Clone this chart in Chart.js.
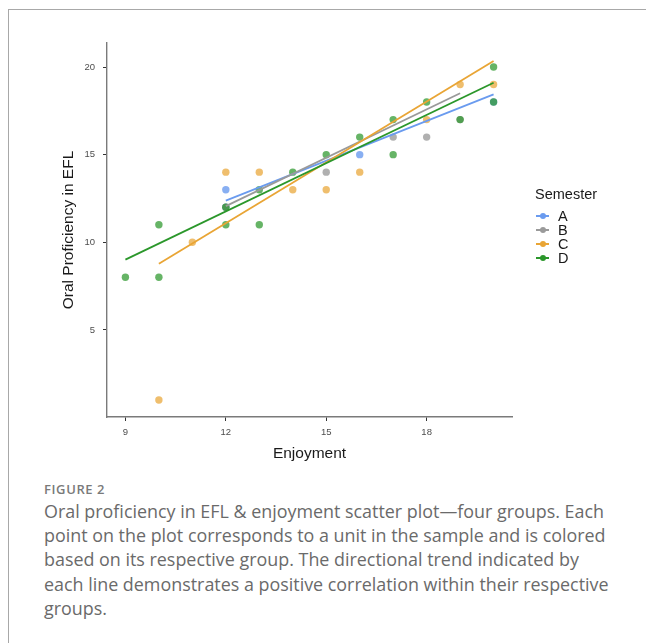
<!DOCTYPE html>
<html>
<head>
<meta charset="utf-8">
<script src="https://cdn.jsdelivr.net/npm/chart.js@4.4.1/dist/chart.umd.min.js"></script>
<style>
  html, body { margin: 0; padding: 0; background: #ffffff; width: 646px; height: 643px; overflow: hidden; }
  #frame { position: absolute; left: 8px; top: 9px; width: 700px; height: 700px;
           border-left: 1px solid #a8a8a8; border-top: 1px solid #a8a8a8; }
  #wrap { position: absolute; left: 0; top: 0; width: 646px; height: 470px; }
  #legend { position: absolute; left: 535px; top: 186px; font-family: "Liberation Sans", Arial, sans-serif; color: #1a1a1a; }
  #legend .title { font-size: 14.5px; line-height: 17px; margin-bottom: 6px; }
  #legend .row { position: relative; height: 14px; font-size: 14.5px; line-height: 14px; }
  #legend .key { position: absolute; left: 1px; top: 6px; width: 13px; height: 2px; }
  #legend .dot { position: absolute; left: 4px; top: -2px; width: 6px; height: 6px; border-radius: 50%; }
  #legend .lab { position: absolute; left: 23px; top: 0; }
  #fig { position: absolute; left: 44px; top: 480px; font-family: "Open Sans", sans-serif; font-weight: 600;
         font-size: 13px; letter-spacing: 0.6px; color: #7a7a7a; }
  #cap { position: absolute; left: 44px; top: 499px; width: 600px; white-space: nowrap; font-family: "Open Sans", sans-serif;
         font-weight: 400; font-size: 17.9px; line-height: 24.2px; color: #6a6a6a; }
</style>
</head>
<body>
<div id="frame"></div>
<div id="wrap"><canvas id="c"></canvas></div>
<div id="legend"></div>
<div id="fig">FIGURE 2</div>
<div id="cap">Oral proficiency in EFL &amp; enjoyment scatter plot—four groups. Each<br>point on the plot corresponds to a unit in the sample and is colored<br>based on its respective group. The directional trend indicated by<br>each line demonstrates a positive correlation within their respective<br>groups.</div>
<script>
// ---- Data ----
const semesters = ['A', 'B', 'C', 'D'];

const enjoymentA = [12, 12, 16, 20];
const oralA      = [13, 12, 15, 18];

const enjoymentB = [12, 15, 17, 18, 19];
const oralB      = [12, 14, 16, 16, 17];

const enjoymentC = [10, 11, 12, 13, 14, 15, 16, 18, 19, 20];
const oralC      = [1, 10, 14, 14, 13, 13, 14, 17, 19, 19];

const enjoymentD = [9, 10, 10, 12, 12, 13, 13, 14, 15, 16, 17, 17, 18, 19, 20, 20];
const oralD      = [8, 8, 11, 11, 12, 11, 13, 14, 15, 16, 15, 17, 18, 17, 18, 20];

// fitted trend lines: endpoints (x range, fitted y)
const trendXA = [12, 20]; const trendYA = [12.38, 18.44];
const trendXB = [12, 19]; const trendYB = [12.06, 18.50];
const trendXC = [10, 20]; const trendYC = [8.78, 20.34];
const trendXD = [9, 20];  const trendYD = [9.01, 19.10];

const xTicks = [9, 12, 15, 18];
const yTicks = [5, 10, 15, 20];
const xRange = [8.45, 20.55];
const yRange = [0.03, 21.37];

// ---- Styles ----
const lineColors  = ['#6a9bef', '#9a9a9a', '#e9a535', '#2b972b'];
const pointColors = ['rgba(106,155,239,0.80)', 'rgba(150,150,150,0.75)', 'rgba(233,165,53,0.72)', 'rgba(43,151,43,0.72)'];

const zip = (xs, ys) => xs.map((x, i) => ({ x: x, y: ys[i] }));
const pts = [zip(enjoymentA, oralA), zip(enjoymentB, oralB), zip(enjoymentC, oralC), zip(enjoymentD, oralD)];
const trends = [zip(trendXA, trendYA), zip(trendXB, trendYB), zip(trendXC, trendYC), zip(trendXD, trendYD)];

const datasets = [];
semesters.forEach((s, i) => {
  datasets.push({
    label: s, data: pts[i], type: 'scatter',
    backgroundColor: pointColors[i], borderWidth: 0,
    pointRadius: 3.7, pointHoverRadius: 3.7,
    order: 10 - i
  });
});
semesters.forEach((s, i) => {
  datasets.push({
    label: s + ' trend', data: trends[i], type: 'scatter', showLine: true,
    borderColor: lineColors[i], backgroundColor: lineColors[i], borderWidth: 1.8,
    pointRadius: 0, fill: false, tension: 0,
    order: 4 - i
  });
});

const FONT = '"Liberation Sans", Arial, sans-serif';

new Chart(document.getElementById('c'), {
  type: 'scatter',
  data: { datasets: datasets },
  options: {
    responsive: true, maintainAspectRatio: false, animation: false, devicePixelRatio: 1,
    layout: { padding: { left: 59, top: 43, right: 134, bottom: 7 } },
    plugins: { legend: { display: false }, tooltip: { enabled: false }, title: { display: false } },
    scales: {
      x: {
        type: 'linear', min: xRange[0], max: xRange[1],
        afterBuildTicks: (s) => { s.ticks = xTicks.map(v => ({ value: v })); },
        afterFit: (s) => { s.height = 46; },
        grid: { display: true, drawOnChartArea: false, drawTicks: true, tickLength: 4, color: '#333333', lineWidth: 1 },
        border: { display: true, color: '#7a7a7a', width: 1.4 },
        ticks: { color: '#4d4d4d', font: { family: FONT, size: 9.5 }, padding: 6, maxRotation: 0, autoSkip: false },
        title: { display: true, text: 'Enjoyment', color: '#1a1a1a', font: { family: FONT, size: 15.5 }, padding: 0 }
      },
      y: {
        type: 'linear', min: yRange[0], max: yRange[1],
        afterBuildTicks: (s) => { s.ticks = yTicks.map(v => ({ value: v })); },
        afterFit: (s) => { s.width = 48; },
        grid: { display: true, drawOnChartArea: false, drawTicks: true, tickLength: 4, color: '#333333', lineWidth: 1 },
        border: { display: true, color: '#7a7a7a', width: 1.4 },
        ticks: { color: '#4d4d4d', font: { family: FONT, size: 9.5 }, padding: 8, autoSkip: false },
        title: { display: true, text: 'Oral Proficiency in EFL', color: '#1a1a1a', font: { family: FONT, size: 15.5 }, padding: 0 }
      }
    }
  }
});

// HTML legend
const leg = document.getElementById('legend');
let html = '<div class="title">Semester</div>';
semesters.forEach((s, i) => {
  html += '<div class="row"><span class="key" style="background:' + lineColors[i] + '"><span class="dot" style="background:' + lineColors[i] + '"></span></span><span class="lab">' + s + '</span></div>';
});
leg.innerHTML = html;
</script>
</body>
</html>
